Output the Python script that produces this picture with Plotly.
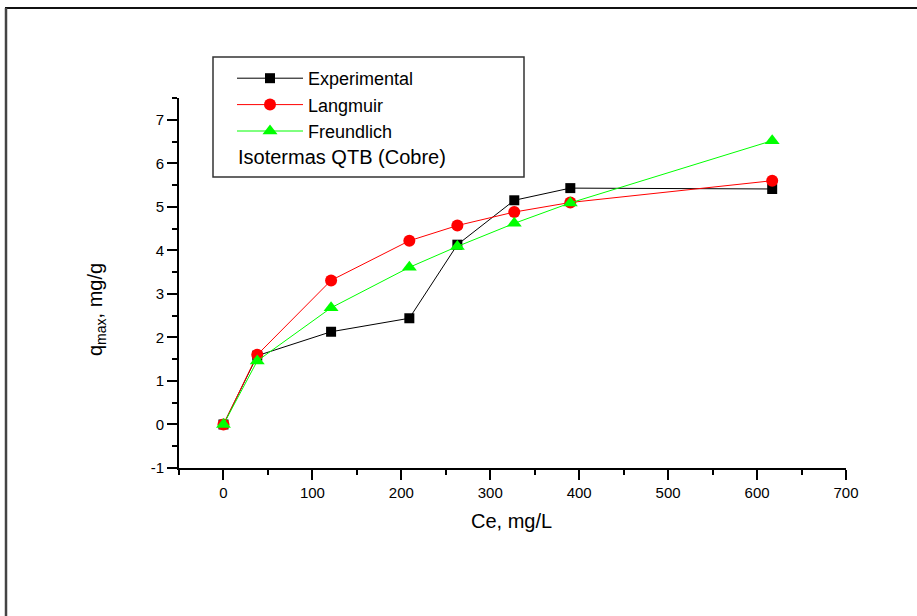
import plotly.graph_objects as go

ce = [0, 38, 121, 209, 263, 327, 390, 617]
experimental = [0, 1.58, 2.13, 2.44, 4.13, 5.15, 5.43, 5.41]
langmuir = [0, 1.60, 3.31, 4.22, 4.57, 4.88, 5.10, 5.60]
freundlich = [0, 1.46, 2.68, 3.61, 4.09, 4.62, 5.09, 6.52]

y_tickvals = [-1, 0, 1, 2, 3, 4, 5, 6, 7]
y_ticktext = ["-1", "0", "1", "2", "3", "4", "5", "6", "7"]

W, H = 917, 616
L, R, T, B = 179, 846, 98, 468

def px(x):
    return (x - L) / (R - L)

def py(y):
    return (B - y) / (B - T)

font = "Liberation Sans, Arial, sans-serif"

fig = go.Figure()
fig.add_trace(go.Scatter(x=ce, y=experimental, mode="lines+markers", name="Experimental",
                         line=dict(color="black", width=1),
                         marker=dict(symbol="square", size=10, color="black")))
fig.add_trace(go.Scatter(x=ce, y=langmuir, mode="lines+markers", name="Langmuir",
                         line=dict(color="#ff0000", width=1),
                         marker=dict(symbol="circle", size=12, color="#ff0000")))
fig.add_trace(go.Scatter(x=ce, y=freundlich, mode="lines+markers", name="Freundlich",
                         line=dict(color="#00ff00", width=1),
                         marker=dict(symbol="triangle-up", size=13, color="#00ff00")))

axis_common = dict(showline=True, linecolor="black", linewidth=2, ticks="outside",
                   ticklen=10, tickwidth=1.5, tickcolor="black", showgrid=False,
                   zeroline=False, tickfont=dict(family=font, size=15, color="black"))

fig.update_xaxes(range=[-50, 700], tick0=0, dtick=100,
                 minor=dict(ticks="outside", ticklen=5, dtick=50, tick0=0, tickcolor="black", tickwidth=1.5),
                 **axis_common)
fig.update_yaxes(range=[-1, 7.5], tickmode="array", tickvals=y_tickvals, ticktext=y_ticktext,
                 minor=dict(ticks="outside", ticklen=5, dtick=0.5, tick0=0, tickcolor="black", tickwidth=1.5),
                 **axis_common)

fig.update_layout(
    width=W, height=H,
    margin=dict(l=L, r=W - R, t=T, b=H - B, pad=0),
    paper_bgcolor="white", plot_bgcolor="white",
    font=dict(family=font, color="black"),
    showlegend=True,
    legend=dict(x=px(232), y=py(60), xanchor="left", yanchor="top",
                bgcolor="rgba(0,0,0,0)", borderwidth=0,
                font=dict(family=font, size=18, color="black"),
                itemwidth=66, tracegroupgap=0),
    shapes=[
        dict(type="rect", xref="paper", yref="paper", x0=px(213), x1=px(524), y0=py(57), y1=py(177),
             line=dict(color="#333", width=1.5), fillcolor="rgba(0,0,0,0)"),
        dict(type="line", xref="paper", yref="paper", x0=px(5), x1=px(917), y0=py(8), y1=py(8),
             line=dict(color="#111", width=2)),
        dict(type="line", xref="paper", yref="paper", x0=px(6), x1=px(6), y0=py(8), y1=py(616),
             line=dict(color="#444", width=2.5)),
    ],
    annotations=[
        dict(text="Isotermas QTB (Cobre)", xref="paper", yref="paper", x=px(236), y=py(157),
             xanchor="left", yanchor="middle", showarrow=False,
             font=dict(family=font, size=20, color="black")),
        dict(text="Ce, mg/L", xref="paper", yref="paper", x=px(511), y=py(521),
             xanchor="center", yanchor="middle", showarrow=False,
             font=dict(family=font, size=20, color="black")),
        dict(text="q<sub>max</sub>, mg/g", xref="paper", yref="paper", x=px(96), y=py(310),
             xanchor="center", yanchor="middle", showarrow=False, textangle=-90,
             font=dict(family=font, size=20, color="black")),
    ],
)

fig.write_html("out.html")
